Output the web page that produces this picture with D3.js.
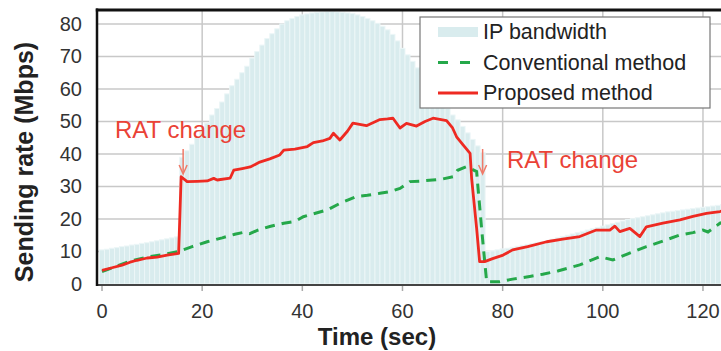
<!DOCTYPE html>
<html>
<head>
<meta charset="utf-8">
<script src="https://cdn.jsdelivr.net/npm/d3@7"></script>
<style>
  body { margin: 0; background: #fff; }
  svg { display: block; font-family: "Liberation Sans", Arial, sans-serif; }
</style>
</head>
<body>
<div id="chart"></div>
<script>
// IP bandwidth, one value per second from t = 0
const bandwidth = [
  10.5, 10.7, 11, 11.2, 11.5, 11.7, 12, 12.2, 12.5, 12.7, 13, 13.3, 13.6, 13.9, 14.2, 14.5,
  39, 41, 43, 45, 47, 49.5, 52, 54, 56, 58.5, 61, 63, 65, 67, 69.5, 71.5, 73.5, 75.5, 77, 78.5, 80,
  81, 81.7, 82.3, 82.8, 83.1, 83.4, 83.6, 83.7, 83.8, 83.8, 83.7, 83.6, 83.4, 83.2,
  82.8, 82.3, 81.7, 81, 80.2, 79.3, 78.2, 76.8,
  74.8, 72.5, 70.5, 68.5, 66.5, 64.2, 62, 60, 58, 56, 54, 52, 50.5, 48.5, 46.5, 44.5, 42.5, 40.5,
  10, 10.2, 10.5, 10.8, 11, 11.3, 11.6, 11.9, 12.2, 12.5, 12.8, 13.1, 13.4, 13.8, 14.2,
  14.6, 15, 15.4, 15.8, 16.2, 16.6, 17, 17.4, 17.8, 18.2, 18.6, 19, 19.4, 19.8, 20.1,
  20.4, 20.7, 21, 21.3, 21.6, 21.9, 22.2, 22.4, 22.6, 22.8, 23, 23.2, 23.4, 23.6, 23.8,
  24, 24.2, 24.4
];

// [time, Mbps]
const proposed = [
  [0, 4.2], [2, 5], [4, 5.8], [5.6, 6.7], [7, 7.3], [9, 8], [11, 8.3], [13, 8.9], [15.3, 9.4],
  [15.8, 33], [17, 31.5], [19, 31.6], [21, 31.7], [22.3, 32.5], [23, 32], [25.6, 32.6], [26.3, 35],
  [28, 35.5], [29.6, 36], [31.5, 37.5], [33.5, 38.5], [35.5, 39.7], [36.3, 41.2], [38.5, 41.5],
  [41, 42.3], [42.2, 43.5], [44, 44], [45.5, 44.8], [46.2, 46.4], [47.5, 44.3], [49, 47],
  [50.1, 49.5], [52.8, 48.7], [55.5, 50.6], [57, 50.8], [58.1, 51], [59.5, 48], [60.8, 49.4],
  [62.8, 48.6], [64.5, 50], [66.1, 51], [68.8, 50.3], [70, 48], [70.8, 45.3], [72.1, 42.8],
  [73.5, 40.2], [73.8, 32.6], [74.8, 17.2], [75.4, 6.9], [76.4, 6.9], [78, 7.8], [80.1, 8.9],
  [82, 10.5], [85, 11.5], [88.8, 13], [92, 13.8], [95.4, 14.6], [98.7, 16.6], [101.4, 16.6],
  [102.4, 17.8], [103.4, 16.1], [105.4, 17.1], [107.4, 14.6], [108.7, 17.6], [112, 18.7],
  [115.4, 19.7], [118, 20.8], [120.7, 21.7], [123.4, 22.3], [125, 23]
];

const conventional = [
  [0, 3.8], [3, 5.5], [5.6, 7], [9, 8.3], [12, 9], [15.3, 10], [18, 11.5], [21, 13], [24, 14.2],
  [26.5, 15.3], [28.3, 15.9], [29.5, 15.5], [31, 16.5], [33.5, 17.7], [36.3, 18.7], [38.5, 19.2],
  [40.2, 20.7], [42, 21.5], [45, 22.8], [47.5, 24.8], [50.8, 26.9], [53, 27.3], [55.5, 27.9],
  [57.5, 28.4], [59.5, 29.4], [61.5, 31.5], [64, 31.7], [66, 32], [68, 32.3], [70.1, 33],
  [71, 35], [72.8, 36.1], [74.8, 34.6], [75.8, 17], [76.8, 0.7], [79.4, 0.7], [82, 1.5],
  [85.4, 2.3], [88, 3], [91, 4], [95.4, 5.9], [99.4, 8.4], [102, 7.4], [105, 9.3], [108.7, 11.5],
  [112, 13.2], [115.4, 15.1], [118, 15.8], [120, 16.6], [121, 16], [123.4, 18.7], [125, 19.5]
];

const xTicks = [0, 20, 40, 60, 80, 100, 120];
const yTicks = [0, 10, 20, 30, 40, 50, 60, 70, 80];
const legendItems = ['IP bandwidth', 'Conventional method', 'Proposed method'];
const notes = [{ t: 16, label: 'RAT change' }, { t: 75.8, label: 'RAT change' }];

const width = 721, height = 351;
const plot = { left: 97, top: 10, right: 721, bottom: 285 };

const red = '#ee2a22', green = '#25a84a', barFill = '#d9ecee', barGap = '#ecf6f7';

const svg = d3.select('#chart').append('svg')
    .attr('width', width)
    .attr('height', height);

const x = d3.scaleLinear().domain([-1, 123.6]).range([plot.left, plot.right]);
const y = d3.scaleLinear().domain([0, 84.3]).range([284, plot.top]);

svg.append('clipPath').attr('id', 'clip')
  .append('rect')
    .attr('x', plot.left).attr('y', plot.top)
    .attr('width', plot.right - plot.left).attr('height', plot.bottom - plot.top);

// grid
const grid = svg.append('g').attr('stroke', '#c8c8c8').attr('stroke-width', 1.5);
grid.selectAll('.hg').data(yTicks.slice(1)).enter().append('line')
    .attr('x1', plot.left).attr('x2', plot.right)
    .attr('y1', d => y(d)).attr('y2', d => y(d));
grid.selectAll('.vg').data(xTicks.slice(1)).enter().append('line')
    .attr('x1', d => x(d)).attr('x2', d => x(d))
    .attr('y1', plot.top).attr('y2', plot.bottom);

// bandwidth bars
const plotG = svg.append('g').attr('clip-path', 'url(#clip)');
plotG.selectAll('.bw').data(bandwidth).enter().append('rect')
    .attr('x', (d, i) => x(i - 0.5))
    .attr('width', x(1) - x(0))
    .attr('y', d => y(d))
    .attr('height', d => y(0) - y(d))
    .attr('fill', barFill)
    .attr('stroke', barGap)
    .attr('stroke-width', 1);

const line = d3.line().x(d => x(d[0])).y(d => y(d[1]));

plotG.append('path')
    .attr('d', line(conventional))
    .attr('fill', 'none')
    .attr('stroke', green)
    .attr('stroke-width', 3)
    .attr('stroke-dasharray', '10,7');

plotG.append('path')
    .attr('d', line(proposed))
    .attr('fill', 'none')
    .attr('stroke', red)
    .attr('stroke-width', 2.8)
    .attr('stroke-linejoin', 'round');

// frame
svg.append('line').attr('x1', plot.left).attr('x2', plot.right).attr('y1', plot.bottom).attr('y2', plot.bottom)
    .attr('stroke', '#444').attr('stroke-width', 2);
svg.append('line').attr('x1', plot.left).attr('x2', plot.left).attr('y1', plot.top - 1.5).attr('y2', plot.bottom + 1)
    .attr('stroke', '#111').attr('stroke-width', 2.5);
svg.append('line').attr('x1', plot.left - 1.2).attr('x2', plot.right).attr('y1', plot.top).attr('y2', plot.top)
    .attr('stroke', '#111').attr('stroke-width', 3);

// x ticks + labels
const xt = svg.append('g');
xt.selectAll('line').data(xTicks).enter().append('line')
    .attr('x1', d => x(d)).attr('x2', d => x(d))
    .attr('y1', plot.bottom + 1).attr('y2', plot.bottom + 6)
    .attr('stroke', '#aaa').attr('stroke-width', 1.5);
xt.selectAll('text').data(xTicks).enter().append('text')
    .attr('x', d => x(d)).attr('y', 318)
    .attr('text-anchor', 'middle')
    .attr('font-size', 20).attr('fill', '#333')
    .text(d => d);

svg.append('g').selectAll('text').data(yTicks).enter().append('text')
    .attr('x', 82).attr('y', d => y(d) + 7)
    .attr('text-anchor', 'end')
    .attr('font-size', 20).attr('fill', '#333')
    .text(d => d);

// axis titles
svg.append('text')
    .attr('x', 377).attr('y', 345)
    .attr('text-anchor', 'middle')
    .attr('font-size', 24).attr('font-weight', 'bold').attr('fill', '#222')
    .text('Time (sec)');
svg.append('text')
    .attr('transform', 'translate(33,162) rotate(-90)')
    .attr('text-anchor', 'middle')
    .attr('font-size', 25).attr('font-weight', 'bold').attr('fill', '#222')
    .text('Sending rate (Mbps)');

// annotations
const ann = svg.append('g');
notes.forEach(n => {
    const ax = x(n.t) + 1;
    ann.append('line')
        .attr('x1', ax).attr('x2', ax).attr('y1', 149).attr('y2', 172)
        .attr('stroke', '#f07a68').attr('stroke-width', 1.5);
    ann.append('path')
        .attr('d', `M${ax - 4},${165} L${ax},${174} L${ax + 4},${165}`)
        .attr('fill', 'none').attr('stroke', '#f07a68').attr('stroke-width', 1.5);
});
ann.append('text').attr('x', 115).attr('y', 138)
    .attr('font-size', 24).attr('fill', '#ea4236').text(notes[0].label);
ann.append('text').attr('x', 507).attr('y', 168)
    .attr('font-size', 24).attr('fill', '#ea4236').text(notes[1].label);

// legend
const legend = svg.append('g').attr('transform', 'translate(420,17)');
legend.append('rect')
    .attr('width', 290).attr('height', 91)
    .attr('fill', '#fff').attr('stroke', '#777').attr('stroke-width', 1.2);
const li = legend.selectAll('.legend-item').data(legendItems).enter().append('g')
    .classed('legend-item', true)
    .attr('transform', (d, i) => `translate(0,${15 + i * 30.5})`);
li.filter((d, i) => i === 0).append('rect')
    .attr('x', 18).attr('y', -5).attr('width', 40).attr('height', 10)
    .attr('fill', barFill);
li.filter((d, i) => i === 1).append('line')
    .attr('x1', 18).attr('x2', 58).attr('stroke', green).attr('stroke-width', 3)
    .attr('stroke-dasharray', '10,12');
li.filter((d, i) => i === 2).append('line')
    .attr('x1', 18).attr('x2', 58).attr('stroke', red).attr('stroke-width', 2.8);
li.append('text')
    .attr('x', 63).attr('y', 7)
    .attr('font-size', 21.5).attr('fill', '#222')
    .text(d => d);
</script>
</body>
</html>
